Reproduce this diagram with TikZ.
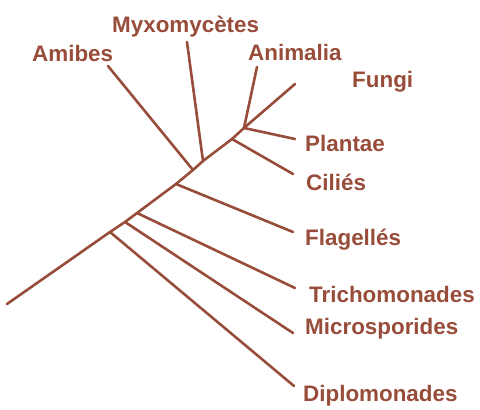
\documentclass[tikz,border=0pt]{standalone}
\usepackage{fontspec}
\setmainfont{Liberation Sans}
\usetikzlibrary{positioning}
\definecolor{mBrown}{HTML}{984C3A}

\begin{document}
\begin{tikzpicture}[x=1pt, y=-1pt,
      br/.style={draw=mBrown, line width=2.6pt, line cap=round, line join=round},
      lbl/.style={anchor=base west, inner sep=0pt, text=mBrown,
                  font=\fontsize{22.4}{24}\selectfont\bfseries}]
    \useasboundingbox (0,0) rectangle (480,410);

    % trunk and junctions
    \coordinate (root) at (7,304);
    \coordinate (jDip) at (110,232);
    \coordinate (jMic) at (125,222);
    \coordinate (jTri) at (137,213);
    \coordinate (jFla) at (176,184);
    \coordinate (jAmi) at (193,170);
    \coordinate (jMyx) at (203,161);
    \coordinate (jCil) at (232,139);
    \coordinate (jTop) at (244,128);

    % branch tips
    \coordinate (tDip) at (294,386);
    \coordinate (tMic) at (293,333);
    \coordinate (tTri) at (295,288);
    \coordinate (tFla) at (293,232);
    \coordinate (tCil) at (293,174);
    \coordinate (tPla) at (295,139);
    \coordinate (tFun) at (295,84);
    \coordinate (tAni) at (257,67);
    \coordinate (tMyx) at (187,42);
    \coordinate (tAmi) at (108,66);

    % labels
    \node[lbl] (amibes) at (32,61.5)  {Amibes};
    \node[lbl] (myxo)   at (112,32.5) {Myxomycètes};
    \node[lbl] (anim)   at (248,60)   {Animalia};
    \node[lbl] (fungi)  at (352,87)   {Fungi};
    \node[lbl] (plant)  at (305,151.5) {Plantae};
    \node[lbl] (cilies) at (306,190)  {Ciliés};
    \node[lbl] (flag)   at (305,245.5) {Flagellés};
    \node[lbl] (tricho) at (309,302)  {Trichomonades};
    \node[lbl] (micro)  at (305,334)  {Microsporides};
    \node[lbl] (diplo)  at (303,401.5) {Diplomonades};

    \draw[br] (root) -- (jDip) -- (jMic) -- (jTri) -- (jFla) -- (jAmi)
              -- (jMyx) -- (jCil) -- (jTop) -- (tFun);
    \draw[br] (jDip) -- (tDip);
    \draw[br] (jMic) -- (tMic);
    \draw[br] (jTri) -- (tTri);
    \draw[br] (jFla) -- (tFla);
    \draw[br] (jAmi) -- (tAmi);
    \draw[br] (jMyx) -- (tMyx);
    \draw[br] (jCil) -- (tCil);
    \draw[br] (jTop) -- (tPla);
    \draw[br] (jTop) -- (tAni);
  \end{tikzpicture}
\end{document}
